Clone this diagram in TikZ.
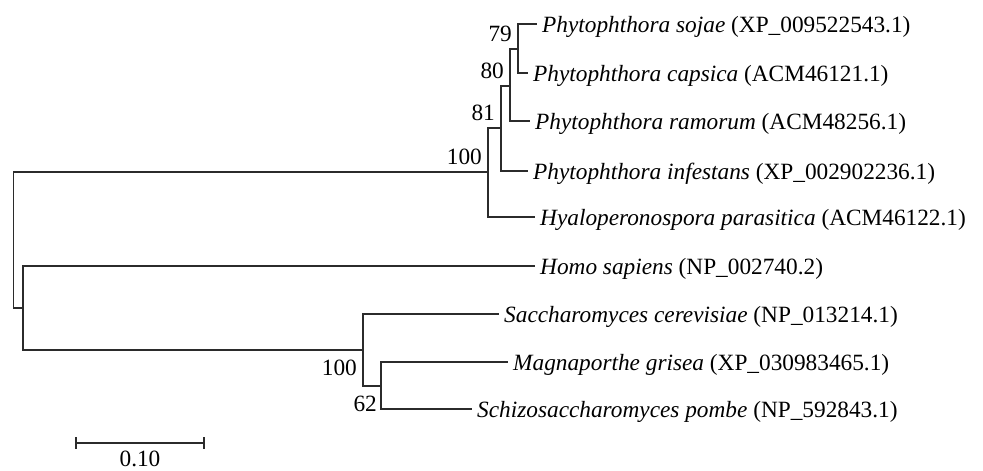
\documentclass[tikz,border=0pt]{standalone}
\usepackage{fontspec}
\setmainfont{Liberation Serif}
\usepackage{tikz}
\usetikzlibrary{calc}
\usepackage{xcolor}
\definecolor{branch}{HTML}{2b2b2b}

\tikzset{
  tree/.style={line width=1.7pt,branch},
  leaf/.style={anchor=base west,inner sep=0pt,xshift=5pt,yshift=-8pt},
  bootup/.style={anchor=south east,inner sep=0pt,xshift=-6pt,yshift=7pt},
  bootdown/.style={anchor=north east,inner sep=0pt,xshift=-6pt,yshift=-10pt},
}

\begin{document}
\begin{tikzpicture}[x=1pt,y=-1pt,font=\fontsize{23.3}{27}\selectfont]
  \useasboundingbox (0,0) rectangle (983,471);
  % internal nodes
  \coordinate (root) at (13.5,240);
  \coordinate (n100a) at (488,172);
  \coordinate (n81) at (501,128);
  \coordinate (n80) at (510,86);
  \coordinate (n79) at (518,49);
  \coordinate (nhum) at (23,308);
  \coordinate (n100b) at (363,350);
  \coordinate (n62) at (381,386);
  % tips
  \coordinate (sojae) at (537,24);
  \coordinate (capsica) at (528,73);
  \coordinate (ramorum) at (530,121);
  \coordinate (infestans) at (528,171);
  \coordinate (hyalo) at (535,217);
  \coordinate (homo) at (535,266);
  \coordinate (sacch) at (499,314);
  \coordinate (magna) at (508,362);
  \coordinate (schizo) at (472,409);

  % branches
  \draw[tree] (root) |- (n100a);
  \draw[tree] (root) |- (nhum);
  \draw[tree] (n100a) |- (n81);
  \draw[tree] (n100a) |- (hyalo);
  \draw[tree] (n81) |- (n80);
  \draw[tree] (n81) |- (infestans);
  \draw[tree] (n80) |- (n79);
  \draw[tree] (n80) |- (ramorum);
  \draw[tree] (n79) |- (sojae);
  \draw[tree] (n79) |- (capsica);
  \draw[tree] (nhum) |- (homo);
  \draw[tree] (nhum) |- (n100b);
  \draw[tree] (n100b) |- (sacch);
  \draw[tree] (n100b) |- (n62);
  \draw[tree] (n62) |- (magna);
  \draw[tree] (n62) |- (schizo);

  % taxa
  \node[leaf] (tsojae) at (sojae) {\textit{Phytophthora sojae} (XP\_009522543.1)};
  \node[leaf] (tcapsica) at (capsica) {\textit{Phytophthora capsica} (ACM46121.1)};
  \node[leaf] (tramorum) at (ramorum) {\textit{Phytophthora ramorum} (ACM48256.1)};
  \node[leaf] (tinfestans) at (infestans) {\textit{Phytophthora infestans} (XP\_002902236.1)};
  \node[leaf] (thyalo) at (hyalo) {\textit{Hyaloperonospora parasitica} (ACM46122.1)};
  \node[leaf] (thomo) at (homo) {\textit{Homo sapiens} (NP\_002740.2)};
  \node[leaf] (tsacch) at (sacch) {\textit{Saccharomyces cerevisiae} (NP\_013214.1)};
  \node[leaf] (tmagna) at (magna) {\textit{Magnaporthe grisea} (XP\_030983465.1)};
  \node[leaf] (tschizo) at (schizo) {\textit{Schizosaccharomyces pombe} (NP\_592843.1)};

  % bootstrap values
  \node[bootup] (b79) at (n79) {79};
  \node[bootup] (b80) at (n80) {80};
  \node[bootup] (b81) at (n81) {81};
  \node[bootup] (b100a) at (n100a) {100};
  \node[bootdown] (b100b) at (n100b) {100};
  \node[bootdown,xshift=2pt] (b62) at (n62) {62};

  % scale bar
  \coordinate (sbl) at (76,443);
  \coordinate (sbr) at (204,443);
  \draw[tree] (sbl) -- (sbr);
  \draw[tree] ($(sbl)+(0,-6)$) -- ($(sbl)+(0,6)$);
  \draw[tree] ($(sbr)+(0,-6)$) -- ($(sbr)+(0,6)$);
  \node[anchor=north,inner sep=0pt,yshift=-8pt] (sblab) at ($(sbl)!0.5!(sbr)$) {0.10};
\end{tikzpicture}
\end{document}
